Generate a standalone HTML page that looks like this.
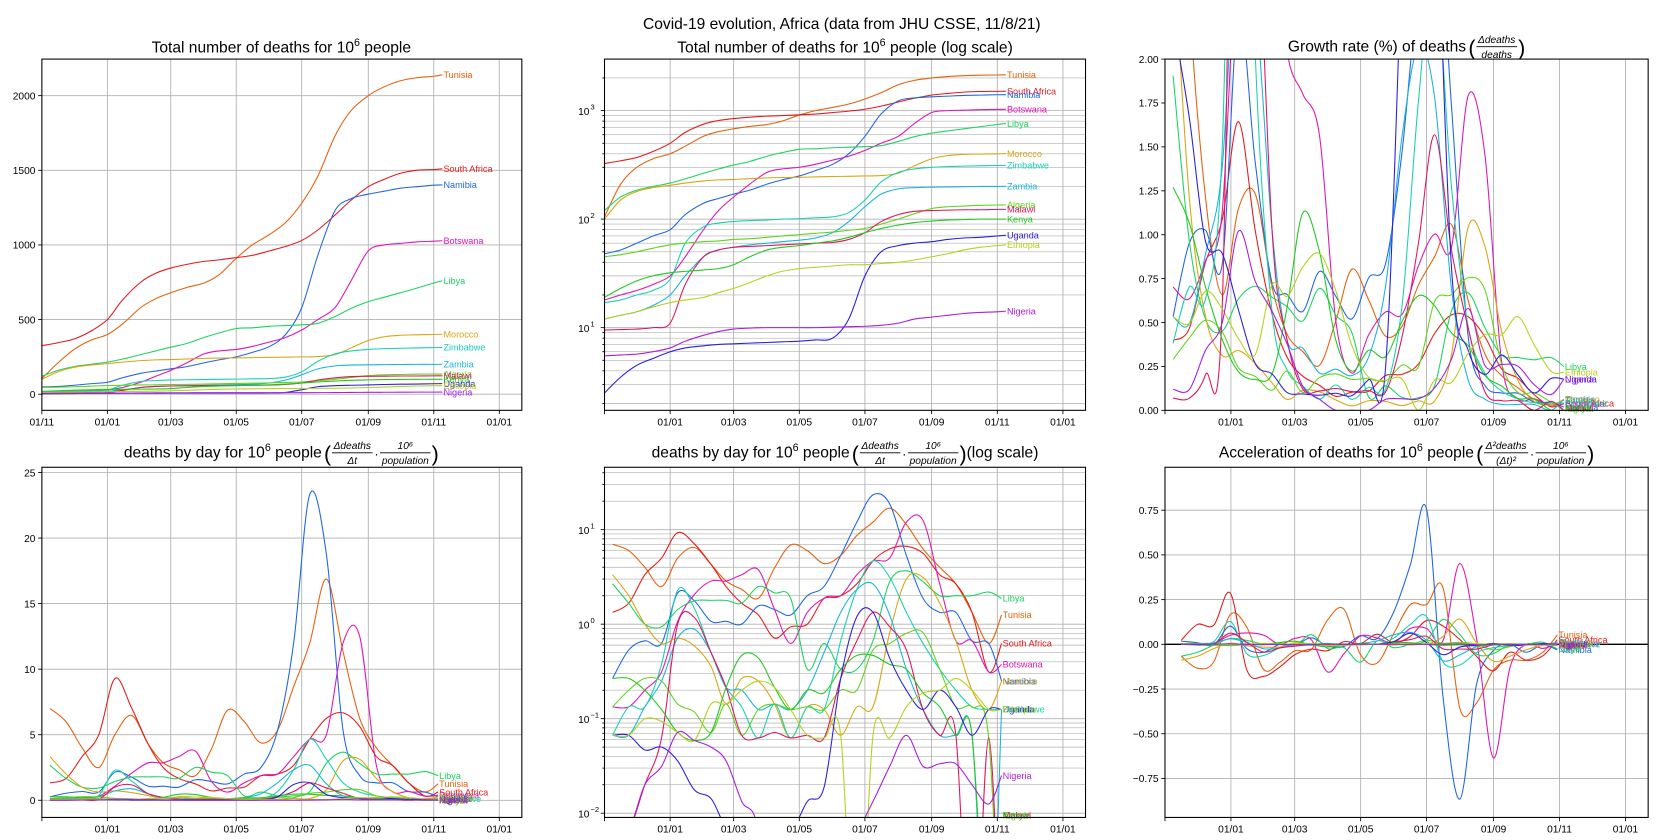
<!DOCTYPE html>
<html><head><meta charset="utf-8"><style>
html,body{margin:0;padding:0;background:#fff;width:1675px;height:840px;overflow:hidden;}
svg{display:block;font-family:"Liberation Sans","DejaVu Sans",sans-serif;}
</style></head><body>
<svg id="fig" width="1675" height="840" viewBox="0 0 1560 782" preserveAspectRatio="none" xmlns="http://www.w3.org/2000/svg">
<rect width="1560" height="782" fill="#fff"/>
<text x="784" y="27" font-size="14.5" text-anchor="middle" fill="#000">Covid-19 evolution, Africa (data from JHU CSSE, 11/8/21)</text>
</svg>
<script>
// ---- data ----
const days = [0,15,30,45,61,75,92,106,120,135,151,165,181,196,212,227,242,257,273,288,304,319,334,349,365,373];
const countries = ["Tunisia","South Africa","Namibia","Botswana","Libya","Morocco","Zimbabwe","Zambia","Algeria","Malawi","Kenya","Uganda","Ethiopia","Nigeria"];
const cumTunisia = [105,210,300,360,400,470,580,640,680,715,745,800,910,1000,1070,1150,1280,1460,1730,1900,2000,2060,2100,2120,2130,2140];
const cumSouthAfrica = [325,345,370,420,500,630,750,810,845,870,890,900,915,930,960,990,1030,1100,1200,1300,1390,1440,1480,1500,1505,1510];
const cumNamibia = [48,52,60,70,80,110,140,155,170,185,210,230,250,280,320,400,580,930,1230,1310,1340,1360,1380,1390,1400,1402];
const cumBotswana = [18,20,22,25,30,45,80,120,160,210,270,290,300,320,350,380,430,500,580,760,960,1000,1010,1020,1025,1028];
const cumLibya = [120,160,185,200,215,235,265,290,315,340,380,410,440,445,455,460,465,475,520,575,620,650,680,710,745,760];
const cumMorocco = [100,150,180,195,205,215,225,230,232,236,240,242,243,245,247,248,250,252,265,310,360,385,395,398,400,402];
const cumZimbabwe = [17,18,20,22,28,60,85,92,95,97,98,100,101,103,105,115,150,220,270,290,300,305,308,310,312,313];
const cumZambia = [12,13,14,16,20,30,45,52,55,58,60,62,64,67,75,95,130,170,190,195,197,198,199,200,200,201];
const cumAlgeria = [45,47,50,54,58,60,62,63,65,66,68,70,72,74,76,79,82,90,100,112,125,130,132,134,135,135];
const cumMalawi = [9.5,9.6,9.7,10,11,25,45,52,55,56,57,58,59,60,61,65,75,95,110,118,120,121,122,122,123,123];
const cumKenya = [19,23,27,30,32,33,34,35,38,45,52,55,57,60,63,68,75,82,88,93,96,98,99,100,100,100];
const cumUganda = [2.5,3.5,4.5,5.2,6,6.5,6.8,7,7.1,7.2,7.3,7.4,7.5,7.7,8,12,30,50,57,60,62,65,67,68,70,71];
const cumEthiopia = [12,13,14,15.5,17,18,19,21,23,26,30,33,35,36,37,38,38,39,40,42,45,48,52,55,57,58];
const cumNigeria = [5.5,5.6,5.7,6,6.5,7.5,8.5,9.2,9.7,9.9,10,10,10,10,10.1,10.2,10.3,10.5,11,12,12.5,13,13.5,13.8,14,14.2];
const tickDays = [0,61,120,181,242,304,365,426];
const tickLabels = ["01/11","01/01","01/03","01/05","01/07","01/09","01/11","01/01"];
const linTicks1 = [0,500,1000,1500,2000];
const linTicks3 = [0,0.25,0.5,0.75,1,1.25,1.5,1.75,2];
const linTicks4 = [0,5,10,15,20,25];
const linTicks6 = [-0.75,-0.5,-0.25,0,0.25,0.5,0.75];

const series = {"Tunisia":cumTunisia,"South Africa":cumSouthAfrica,"Namibia":cumNamibia,"Botswana":cumBotswana,"Libya":cumLibya,"Morocco":cumMorocco,"Zimbabwe":cumZimbabwe,"Zambia":cumZambia,"Algeria":cumAlgeria,"Malawi":cumMalawi,"Kenya":cumKenya,"Uganda":cumUganda,"Ethiopia":cumEthiopia,"Nigeria":cumNigeria};
const colors = {"Tunisia":"#e5600c","South Africa":"#e51a1a","Namibia":"#1f66e6","Botswana":"#e015b5","Libya":"#1ad45f","Morocco":"#dba510","Zimbabwe":"#16d2b0","Zambia":"#1ab4dc","Algeria":"#5fd41a","Malawi":"#e0155f","Kenya":"#22c81e","Uganda":"#2a1ee0","Ethiopia":"#b4d21a","Nigeria":"#a81ee0"};

const NS="http://www.w3.org/2000/svg";
const svg=document.getElementById('fig');
function mk(tag,attrs,parent){const e=document.createElementNS(NS,tag);for(const k in attrs)e.setAttribute(k,attrs[k]);(parent||svg).appendChild(e);return e;}

function daily(c){const t=[],v=[];for(let i=1;i<c.length;i++){t.push((days[i]+days[i-1])/2);v.push((c[i]-c[i-1])/(days[i]-days[i-1]));}return {t,v};}
function growth(c){const t=[],v=[];for(let i=1;i<c.length;i++){t.push((days[i]+days[i-1])/2);v.push(100*(c[i]-c[i-1])/(days[i]-days[i-1])/((c[i]+c[i-1])/2));}return {t,v};}
function accel(c){const d=daily(c);const t=[],v=[];for(let i=1;i<d.v.length;i++){t.push((d.t[i]+d.t[i-1])/2);v.push((d.v[i]-d.v[i-1])/(d.t[i]-d.t[i-1]));}return {t,v};}

const panels=[
 {id:1,x0:39,y0:55,w:447,h:327,type:'lin',lo:-108,hi:2245,ticks:linTicks1,fmt:v=>String(v),firstTick:0,hgrid:true},
 {id:2,x0:563,y0:55,w:448,h:327,type:'log',lo:0.238,hi:3.475,decades:[1,2,3],firstTick:1,hgrid:true},
 {id:3,x0:1085,y0:55,w:450,h:327,type:'lin',lo:0,hi:2,ticks:linTicks3,fmt:v=>v.toFixed(2),firstTick:1,hgrid:false},
 {id:4,x0:39,y0:435,w:447,h:326,type:'lin',lo:-1.31,hi:25.4,ticks:linTicks4,fmt:v=>String(v),firstTick:1,hgrid:true},
 {id:5,x0:563,y0:435,w:448,h:326,type:'log',lo:-2.045,hi:1.66,decades:[-2,-1,0,1],firstTick:1,hgrid:true},
 {id:6,x0:1085,y0:435,w:450,h:326,type:'lin',lo:-0.968,hi:0.99,ticks:linTicks6,fmt:v=>(v<0?'\u2212':'')+Math.abs(v).toFixed(2),firstTick:1,hgrid:true}
];
const DMAX=447;
function xs(p,d){return p.x0+d/DMAX*p.w;}
function ys(p,v){let t;if(p.type==='log'){t=(Math.log10(Math.max(v,1e-6))-p.lo)/(p.hi-p.lo);}else t=(v-p.lo)/(p.hi-p.lo);return p.y0+p.h*(1-t);}

function pathFrom(pts){
 if(pts.length<2)return '';
 let d='M'+pts[0][0].toFixed(2)+','+pts[0][1].toFixed(2);
 for(let i=0;i<pts.length-1;i++){
  const p0=pts[Math.max(0,i-1)],p1=pts[i],p2=pts[i+1],p3=pts[Math.min(pts.length-1,i+2)];
  const c1=[p1[0]+(p2[0]-p0[0])/6,p1[1]+(p2[1]-p0[1])/6];
  const c2=[p2[0]-(p3[0]-p1[0])/6,p2[1]-(p3[1]-p1[1])/6];
  d+=' C'+c1[0].toFixed(2)+','+c1[1].toFixed(2)+' '+c2[0].toFixed(2)+','+c2[1].toFixed(2)+' '+p2[0].toFixed(2)+','+p2[1].toFixed(2);
 }
 return d;
}

const defs=mk('defs',{});
panels.forEach(p=>{
 const g=mk('g',{});
 
 
 const cp=mk('clipPath',{id:'clip'+p.id},defs);
 mk('rect',{x:p.x0,y:p.y0,width:p.w,height:p.h},cp);
 tickDays.forEach((d,i)=>{
  const x=xs(p,d);
  if(d>0&&d<DMAX) mk('line',{x1:x,x2:x,y1:p.y0,y2:p.y0+p.h,stroke:'#b0b0b0','stroke-width':0.8},g);
  mk('line',{x1:x,x2:x,y1:p.y0+p.h,y2:p.y0+p.h+3.5,stroke:'#000','stroke-width':0.8},g);
  if(i>=p.firstTick||p.id===1){
   const t=mk('text',{x:x,y:p.y0+p.h+14,'font-size':9.5,'text-anchor':'middle',fill:'#000'},g);
   
   
   t.textContent=tickLabels[i];
  }
 });
 if(p.type==='lin'){
  p.ticks.forEach(v=>{
   const y=ys(p,v);
   if(p.hgrid) mk('line',{x1:p.x0,x2:p.x0+p.w,y1:y,y2:y,stroke:'#b0b0b0','stroke-width':0.8},g);
   mk('line',{x1:p.x0-3.5,x2:p.x0,y1:y,y2:y,stroke:'#000','stroke-width':0.8},g);
   const t=mk('text',{x:p.x0-6,y:y+3.5,'font-size':9.5,'text-anchor':'end',fill:'#000'},g);
   
   
   t.textContent=p.fmt(v);
  });
 } else {
  for(let e=Math.floor(p.lo);e<=Math.ceil(p.hi);e++){
   for(let m=1;m<10;m++){
    const lv=e+Math.log10(m);
    if(lv<p.lo||lv>p.hi)continue;
    const y=ys(p,Math.pow(10,lv));
    mk('line',{x1:p.x0,x2:p.x0+p.w,y1:y,y2:y,stroke:'#b0b0b0','stroke-width':m===1?0.8:0.6},g);
    mk('line',{x1:p.x0-(m===1?3.5:2),x2:p.x0,y1:y,y2:y,stroke:'#000','stroke-width':0.8},g);
   }
  }
  p.decades.forEach(e=>{
   const y=ys(p,Math.pow(10,e));
   const t=mk('text',{x:p.x0-14,y:y+4,'font-size':9.5,'text-anchor':'end',fill:'#000'},g);
   
   
   t.textContent='10';
   const s=mk('text',{x:p.x0-13,y:y-1,'font-size':7,'text-anchor':'start',fill:'#000'},g);
   
   
   s.textContent=(e<0?'\u2212':'')+Math.abs(e);
  });
 }
 if(p.id===6) mk('line',{x1:p.x0,x2:p.x0+p.w,y1:ys(p,0),y2:ys(p,0),stroke:'#000','stroke-width':1.2},g);
 const sg=mk('g',{'clip-path':'url(#clip'+p.id+')'},g);
 countries.forEach(name=>{
  const c=series[name];
  let t,v;
  if(p.id<=2){t=days;v=c;}
  else if(p.id===3){const r=growth(c);t=r.t;v=r.v;}
  else if(p.id<=5){const r=daily(c);t=r.t;v=r.v;}
  else {const r=accel(c);t=r.t;v=r.v;}
  const pts=t.map((d,i)=>[xs(p,d),ys(p,p.type==='log'?Math.max(v[i],1e-4):v[i])]);
  const path=mk('path',{d:pathFrom(pts),fill:'none',stroke:colors[name],'stroke-width':1},sg);
  
  
  const last=pts[pts.length-1];
  const ly=Math.min(Math.max(last[1],p.y0+4),p.y0+p.h-2);
  const lab=mk('text',{x:last[0]+1,y:ly+3,'font-size':8.5,fill:colors[name]},g);
  
  
  lab.textContent=name;
 });
 const fr=mk('rect',{x:p.x0,y:p.y0,width:p.w,height:p.h,fill:'none',stroke:'#000','stroke-width':1},g);
 
 
});

// titles laid out sequentially
function title(cx,y,parts,name){
 const g=mk('g',{});
 
 
 let x=0;
 parts.forEach(pt=>{
  if(pt.t){
   const el=mk('text',{x:x,y:0,'font-size':14.5,fill:'#000'},g);
   el.innerHTML=pt.t;
   x+=el.getBBox().width+2;
  } else if(pt.p){
   const el=mk('text',{x:x,y:3,'font-size':20,fill:'#000'},g);
   el.textContent=pt.p;
   x+=el.getBBox().width;
  } else if(pt.dot){
   const el=mk('text',{x:x+1,y:-2,'font-size':12,fill:'#000'},g);
   el.textContent='.';
   x+=6;
  } else if(pt.num){
   const a=mk('text',{x:0,y:-8,'font-size':9.5,'font-style':'italic','text-anchor':'middle',fill:'#000'},g);
   a.textContent=pt.num;
   const b=mk('text',{x:0,y:6,'font-size':9.5,'font-style':'italic','text-anchor':'middle',fill:'#000'},g);
   b.textContent=pt.den;
   const w=Math.max(a.getBBox().width,b.getBBox().width)+2;
   a.setAttribute('x',x+w/2);b.setAttribute('x',x+w/2);
   mk('line',{x1:x,x2:x+w,y1:-4.5,y2:-4.5,stroke:'#000','stroke-width':0.8},g);
   x+=w+1;
  }
 });
 const bb=g.getBBox();
 g.setAttribute('transform','translate('+(cx-bb.x-bb.width/2)+','+y+')');
}
const TEN='10<tspan dy="-6" font-size="10">6</tspan><tspan dy="6"> people</tspan>';
title(262,49,[{t:'Total number of deaths for '+TEN}],'title-total-deaths');
title(787,49,[{t:'Total number of deaths for 10<tspan dy="-6" font-size="10">6</tspan><tspan dy="6"> people (log scale)</tspan>'}],'title-total-deaths-log');
title(1310,48,[{t:'Growth rate (%) of deaths'},{p:'('},{num:'Δdeaths',den:'deaths'},{p:')'}],'title-growth-rate');
title(262,426,[{t:'deaths by day  for '+TEN},{p:'('},{num:'Δdeaths',den:'Δt'},{dot:1},{num:'10⁶',den:'population'},{p:')'}],'title-deaths-by-day');
title(787,426,[{t:'deaths by day  for '+TEN},{p:'('},{num:'Δdeaths',den:'Δt'},{dot:1},{num:'10⁶',den:'population'},{p:')'},{t:' (log scale)'}],'title-deaths-by-day-log');
title(1310,426,[{t:'Acceleration of deaths for '+TEN},{p:'('},{num:'Δ²deaths',den:'(Δt)²'},{dot:1},{num:'10⁶',den:'population'},{p:')'}],'title-acceleration');
</script>
</body></html>
